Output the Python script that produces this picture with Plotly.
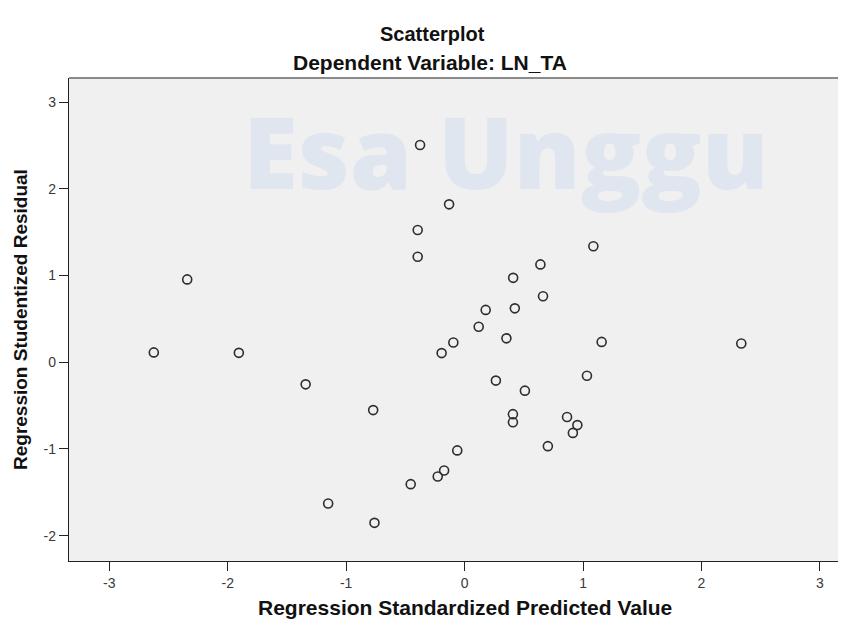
import plotly.graph_objects as go

# Regression Standardized Predicted Value (x) and Studentized Residual (y)
pred = [-0.376, -0.131, -0.396, -0.396, -2.342, 1.087, 0.640, 0.410, 0.662, 0.178,
        0.424, 0.119, 0.353, -0.095, -0.194, 1.157, 2.336, -2.624, -1.906, -1.342,
        0.264, 0.509, 1.033, -0.772, 0.408, 0.408, 0.865, 0.952, 0.914, 0.703,
        -0.062, -0.173, -0.227, -0.455, -1.152, -0.761]
resid = [2.504, 1.820, 1.524, 1.216, 0.955, 1.337, 1.128, 0.973, 0.760, 0.603,
         0.621, 0.409, 0.275, 0.227, 0.105, 0.234, 0.215, 0.113, 0.108, -0.255,
         -0.212, -0.328, -0.156, -0.552, -0.599, -0.693, -0.631, -0.725, -0.815, -0.968,
         -1.017, -1.248, -1.317, -1.406, -1.629, -1.852]

x_ticks = [-3, -2, -1, 0, 1, 2, 3]
y_ticks = [-2, -1, 0, 1, 2, 3]

title_text = "Scatterplot"
subtitle_text = "Dependent Variable: LN_TA"
x_title = "Regression Standardized Predicted Value"
y_title = "Regression Studentized Residual"
watermark = "Esa Unggu"

FONT = "Liberation Sans, Arial, sans-serif"
WM = "#dfe6f0"

# the page body adds an 8px offset, so the figure is 8px smaller
W, H = 838, 613
ML, MT, MB = 61, 70, 60
PW, PH = W - ML, H - MT - MB


def px_x(px):  # page pixel -> paper x
    return (px - 8 - ML) / PW


def px_y(py):  # page pixel -> paper y
    return (H - MB - (py - 8)) / PH


fig = go.Figure()

# faint watermark (below the points)
fig.add_trace(go.Scatter(
    x=[-1.87], y=[1.71], mode="text", text=[watermark],
    textposition="top right", hoverinfo="skip", showlegend=False,
    textfont=dict(family="Open Sans, sans-serif", size=100, color=WM, weight=800),
))

fig.add_trace(go.Scatter(
    x=pred, y=resid, mode="markers", showlegend=False,
    marker=dict(symbol="circle-open", size=9, color="#2e2e2e",
                line=dict(width=1.6, color="#2e2e2e")),
))

fig.update_layout(
    width=W, height=H,
    margin=dict(l=ML, r=0, t=MT, b=MB, autoexpand=False),
    paper_bgcolor="white", plot_bgcolor="#f0f0f0",
    font=dict(family=FONT, color="#333333"),
    xaxis=dict(range=[-3.34, 3.22], tickvals=x_ticks, ticktext=[str(v) for v in x_ticks],
               showgrid=False, zeroline=False, showline=True, linecolor="#222222", linewidth=1.3,
               ticks="outside", ticklen=9, tickwidth=1.3, tickcolor="#222222",
               tickfont=dict(size=14, color="#3a3a3a", family=FONT)),
    yaxis=dict(range=[-2.292, 3.277], tickvals=y_ticks, ticktext=[str(v) for v in y_ticks],
               showgrid=False, zeroline=False, showline=True, linecolor="#222222", linewidth=1.3,
               ticks="outside", ticklen=9, tickwidth=1.3, tickcolor="#222222",
               tickfont=dict(size=14, color="#3a3a3a", family=FONT)),
    shapes=[dict(type="line", xref="paper", yref="paper", x0=0, x1=1, y0=1, y1=1,
                 line=dict(color="#8a8a8a", width=2.2))],
    annotations=[
        dict(text="<b>%s</b>" % title_text, xref="paper", yref="paper",
             x=px_x(432), y=px_y(34), xanchor="center", yanchor="middle",
             showarrow=False, font=dict(size=20, color="#111111", family=FONT)),
        dict(text="<b>%s</b>" % subtitle_text, xref="paper", yref="paper",
             x=px_x(430), y=px_y(62), xanchor="center", yanchor="middle",
             showarrow=False, font=dict(size=21, color="#111111", family=FONT)),
        dict(text="<b>%s</b>" % x_title, xref="x", yref="paper",
             x=0, y=px_y(607), xanchor="center", yanchor="middle",
             showarrow=False, font=dict(size=21, color="#111111", family=FONT)),
        dict(text="<b>%s</b>" % y_title, xref="paper", yref="paper",
             x=px_x(20), y=px_y(320), xanchor="center", yanchor="middle", textangle=-90,
             showarrow=False, font=dict(size=19, color="#111111", family=FONT)),
    ],
)

fig.write_html("out.html")
